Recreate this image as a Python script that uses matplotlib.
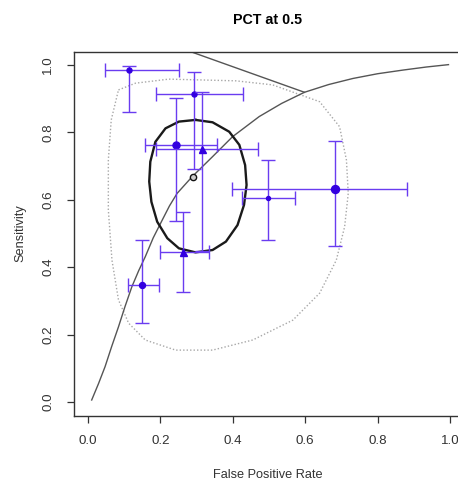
import matplotlib
matplotlib.use("Agg")
import matplotlib.pyplot as plt

plt.rcParams['font.family'] = ['Liberation Sans', 'DejaVu Sans']

# study estimates (false positive rate, sensitivity) with 95% CI
fpr = [0.114, 0.294, 0.244, 0.314, 0.497, 0.683, 0.261, 0.150]
sens = [0.985, 0.914, 0.763, 0.751, 0.605, 0.632, 0.445, 0.347]
fpr_lo = [0.047, 0.189, 0.158, 0.189, 0.425, 0.397, 0.200, 0.111]
fpr_hi = [0.250, 0.428, 0.355, 0.470, 0.572, 0.881, 0.333, 0.195]
sens_lo = [0.860, 0.690, 0.537, 0.448, 0.480, 0.463, 0.326, 0.234]
sens_hi = [0.997, 0.979, 0.902, 0.920, 0.718, 0.774, 0.564, 0.480]
shape = ['o', 'o', 'o', '^', 'o', 'o', '^', 'o']
msize = [5, 5, 7, 7, 4, 8, 7, 6]

# summary point
sum_fpr = 0.289
sum_sens = 0.668

# SROC curve
sroc_fpr = [0.010, 0.029, 0.047, 0.065, 0.084, 0.102, 0.121, 0.140, 0.158, 0.180,
            0.205, 0.225, 0.246, 0.288, 0.344, 0.399, 0.473, 0.535, 0.598, 0.665,
            0.732, 0.800, 0.871, 0.935, 0.996]
sroc_sens = [0.006, 0.055, 0.105, 0.164, 0.223, 0.283, 0.342, 0.390, 0.431, 0.487,
             0.540, 0.582, 0.619, 0.669, 0.728, 0.787, 0.847, 0.886, 0.919, 0.942,
             0.960, 0.974, 0.985, 0.994, 1.001]

# confidence region
conf_fpr = [0.297, 0.344, 0.390, 0.418, 0.434, 0.438, 0.431, 0.413, 0.381, 0.344,
            0.297, 0.251, 0.219, 0.191, 0.175, 0.169, 0.172, 0.186, 0.214, 0.251, 0.297]
conf_sens = [0.837, 0.830, 0.802, 0.763, 0.703, 0.644, 0.585, 0.525, 0.476, 0.451,
             0.444, 0.456, 0.486, 0.535, 0.594, 0.654, 0.713, 0.772, 0.812, 0.832, 0.837]

# prediction region
pred_fpr = [0.084, 0.131, 0.223, 0.408, 0.510, 0.640, 0.695, 0.714, 0.719, 0.709,
            0.686, 0.640, 0.566, 0.455, 0.344, 0.242, 0.158, 0.112, 0.084, 0.066,
            0.056, 0.056, 0.064, 0.084]
pred_sens = [0.926, 0.946, 0.958, 0.953, 0.941, 0.891, 0.817, 0.718, 0.619, 0.520,
             0.421, 0.323, 0.243, 0.184, 0.154, 0.154, 0.184, 0.234, 0.303, 0.421,
             0.570, 0.718, 0.837, 0.926]

# straight segment at the top
seg_fpr = [0.277, 0.598]
seg_sens = [1.042, 0.919]

W, H = 458, 482
fig = plt.figure(figsize=(W / 100, H / 100), dpi=100)
ax = fig.add_axes([73.6 / W, (H - 415.5) / H, (464.4 - 73.6) / W, (415.5 - 51.5) / H])

ax.plot(pred_fpr, pred_sens, color='#a8a8a8', lw=1.0, ls=(0, (1, 1.5)))
ax.plot(seg_fpr, seg_sens, color='#555555', lw=1.0)
ax.plot(sroc_fpr, sroc_sens, color='#555555', lw=1.0)
ax.plot(conf_fpr, conf_sens, color='#1a1a1a', lw=1.7)

for i in range(len(fpr)):
    ax.errorbar(fpr[i], sens[i],
                xerr=[[fpr[i] - fpr_lo[i]], [fpr_hi[i] - fpr[i]]],
                yerr=[[sens[i] - sens_lo[i]], [sens_hi[i] - sens[i]]],
                fmt='none', ecolor='#6a3cf0', elinewidth=1.0, capsize=4.7, capthick=1.0)
    ax.plot(fpr[i], sens[i], marker=shape[i], ms=msize[i] * 0.72, color='#3300e0',
            mec='#3300e0', ls='none')

ax.plot(sum_fpr, sum_sens, marker='o', ms=4.5, mfc='#cccccc', mec='#111111', mew=1.0, ls='none')

ax.set_xlim(-0.04, 1.04)
ax.set_ylim(-0.04, 1.04)
ticks = [0.0, 0.2, 0.4, 0.6, 0.8, 1.0]
ax.set_xticks(ticks)
ax.set_xticklabels(["0.0", "0.2", "0.4", "0.6", "0.8", "1.0"], color='#333333')
ax.set_yticks(ticks)
ax.set_yticklabels(["0.0", "0.2", "0.4", "0.6", "0.8", "1.0"], rotation=90, va='center', color='#333333')
ax.tick_params(length=5, width=0.9, labelsize=9.6, pad=9, color='#333333')
for s in ax.spines.values():
    s.set_color('#333333')
    s.set_linewidth(1.0)

fig.text(268 / W, 1 - 20 / H, "PCT at 0.5", ha='center', va='center', fontsize=10.3, fontweight='bold')
fig.text(268 / W, 1 - 475 / H, "False Positive Rate", ha='center', va='center', fontsize=9.2, color='#333333')
fig.text(20 / W, 1 - 233 / H, "Sensitivity", ha='center', va='center', rotation=90, fontsize=9.2, color='#333333')

fig.savefig("out.png", dpi=100)
